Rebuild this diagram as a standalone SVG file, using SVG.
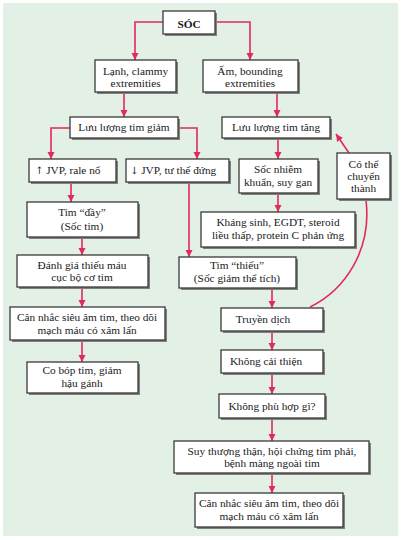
<svg xmlns="http://www.w3.org/2000/svg" width="401" height="540" viewBox="0 0 401 540">
<style>
.bg{fill:#e2f0e6}
.sh{fill:#808080}
.bx{fill:#fff;stroke:#3a3a3a;stroke-width:1.3}
.t{font-family:"Liberation Serif","Times New Roman",serif;font-size:11.3px;fill:#1a1a1a;text-anchor:middle}
.l{text-anchor:start}
.ar{font-family:"DejaVu Serif","Liberation Serif",serif;font-size:10px}
.c{fill:none;stroke:#e4295f;stroke-width:1.6}
</style>
<defs>
<marker id="ar" viewBox="0 0 10 10" refX="10" refY="5" markerWidth="4.5" markerHeight="4.5" markerUnits="strokeWidth" orient="auto">
<path d="M0,0 L10,5 L0,10 z" fill="#e4295f"/>
</marker>
</defs>
<rect x="0" y="0" width="401" height="540" fill="#fff"/>
<rect class="bg" x="3" y="3" width="395" height="533"/>

<g id="connectors">
<path class="c" d="M163,22 H135 V60" marker-end="url(#ar)"/>
<path class="c" d="M215,22 H250 V60" marker-end="url(#ar)"/>
<path class="c" d="M124,92 V117" marker-end="url(#ar)"/>
<path class="c" d="M277,92 V117" marker-end="url(#ar)"/>
<path class="c" d="M70,128 H51 V159" marker-end="url(#ar)"/>
<path class="c" d="M178,128 H197 V159" marker-end="url(#ar)"/>
<path class="c" d="M71,182 V202" marker-end="url(#ar)"/>
<path class="c" d="M189,182 V257" marker-end="url(#ar)"/>
<path class="c" d="M82,237 V255" marker-end="url(#ar)"/>
<path class="c" d="M82,287 V307" marker-end="url(#ar)"/>
<path class="c" d="M82,340 V362" marker-end="url(#ar)"/>
<path class="c" d="M278,138 V159" marker-end="url(#ar)"/>
<path class="c" d="M278,193 V212" marker-end="url(#ar)"/>
<path class="c" d="M272,288 V308" marker-end="url(#ar)"/>
<path class="c" d="M272,331 V350" marker-end="url(#ar)"/>
<path class="c" d="M272,373 V394" marker-end="url(#ar)"/>
<path class="c" d="M272,418 V441" marker-end="url(#ar)"/>
<path class="c" d="M272,473 V493" marker-end="url(#ar)"/>
<path class="c" d="M310,307 C345,290 372,250 366,200"/>
<path class="c" d="M349,153 L336,134" marker-end="url(#ar)"/>
</g>

<g id="n-soc"><rect class="sh" x="165" y="13" width="52" height="23"/><rect class="bx" x="163" y="11" width="52" height="23"/><text class="t" x="189" y="28" font-weight="bold">SÓC</text></g>
<g id="n-lanh"><rect class="sh" x="97" y="62" width="81" height="32"/><rect class="bx" x="95" y="60" width="81" height="32"/><text class="t" x="135.5" y="75">Lạnh, clammy</text><text class="t" x="135.5" y="87">extremities</text></g>
<g id="n-am"><rect class="sh" x="205" y="62" width="95" height="32"/><rect class="bx" x="203" y="60" width="95" height="32"/><text class="t" x="250" y="75">Ấm, bounding</text><text class="t" x="250" y="87">extremities</text></g>
<g id="n-giam"><rect class="sh" x="72" y="119" width="108" height="21"/><rect class="bx" x="70" y="117" width="108" height="21"/><text class="t" x="124" y="131">Lưu lượng tim giảm</text></g>
<g id="n-tang"><rect class="sh" x="224" y="119" width="108" height="21"/><rect class="bx" x="222" y="117" width="108" height="21"/><text class="t" x="276" y="131">Lưu lượng tim tăng</text></g>
<g id="n-jvpup"><rect class="sh" x="31" y="161" width="87" height="23"/><rect class="bx" x="29" y="159" width="87" height="23"/><text class="t l" x="35" y="174"><tspan class="ar">↑</tspan> JVP, rale nổ</text></g>
<g id="n-jvpdown"><rect class="sh" x="128" y="161" width="103" height="23"/><rect class="bx" x="126" y="159" width="103" height="23"/><text class="t l" x="130" y="174"><tspan class="ar">↓</tspan> JVP, tư thế đứng</text></g>
<g id="n-day"><rect class="sh" x="29" y="204" width="111" height="35"/><rect class="bx" x="27" y="202" width="111" height="35"/><text class="t" x="82" y="216">Tim “đầy”</text><text class="t" x="82" y="230">(Sốc tim)</text></g>
<g id="n-danhgia"><rect class="sh" x="19" y="257" width="131" height="32"/><rect class="bx" x="17" y="255" width="131" height="32"/><text class="t" x="82" y="269">Đánh giá thiếu máu</text><text class="t" x="82" y="281">cục bộ cơ tim</text></g>
<g id="n-cannhac1"><rect class="sh" x="12" y="309" width="155" height="33"/><rect class="bx" x="10" y="307" width="155" height="33"/><text class="t" x="87" y="321">Cân nhắc siêu âm tim, theo dõi</text><text class="t" x="87" y="334">mạch máu có xâm lấn</text></g>
<g id="n-cobop"><rect class="sh" x="29" y="364" width="111" height="31"/><rect class="bx" x="27" y="362" width="111" height="31"/><text class="t" x="82" y="374">Co bóp tim, giảm</text><text class="t" x="82" y="387">hậu gánh</text></g>
<g id="n-socnk"><rect class="sh" x="241" y="161" width="79" height="34"/><rect class="bx" x="239" y="159" width="79" height="34"/><text class="t" x="278" y="173">Sốc nhiễm</text><text class="t" x="278" y="186">khuẩn, suy gan</text></g>
<g id="n-khangsinh"><rect class="sh" x="203" y="214" width="154" height="35"/><rect class="bx" x="201" y="212" width="154" height="35"/><text class="t" x="278" y="226">Kháng sinh, EGDT, steroid</text><text class="t" x="278" y="239">liều thấp, protein C phản ứng</text></g>
<g id="n-cothe"><rect class="sh" x="339" y="155" width="53" height="46"/><rect class="bx" x="337" y="153" width="53" height="46"/><text class="t" x="363.5" y="168">Có thể</text><text class="t" x="363.5" y="180">chuyển</text><text class="t" x="363.5" y="192">thành</text></g>
<g id="n-thieu"><rect class="sh" x="181" y="259" width="117" height="31"/><rect class="bx" x="179" y="257" width="117" height="31"/><text class="t" x="237" y="269">Tim “thiếu”</text><text class="t" x="237" y="282">(Sốc giảm thể tích)</text></g>
<g id="n-truyen"><rect class="sh" x="223" y="310" width="102" height="23"/><rect class="bx" x="221" y="308" width="102" height="23"/><text class="t" x="263" y="323">Truyền dịch</text></g>
<g id="n-khongcai"><rect class="sh" x="223" y="352" width="102" height="23"/><rect class="bx" x="221" y="350" width="102" height="23"/><text class="t" x="266" y="365">Không cải thiện</text></g>
<g id="n-khongphu"><rect class="sh" x="221" y="396" width="106" height="24"/><rect class="bx" x="219" y="394" width="106" height="24"/><text class="t" x="272" y="410">Không phù hợp gì?</text></g>
<g id="n-suy"><rect class="sh" x="176" y="443" width="195" height="32"/><rect class="bx" x="174" y="441" width="195" height="32"/><text class="t" x="272" y="455">Suy thượng thận, hội chứng tim phải,</text><text class="t" x="272" y="467">bệnh màng ngoài tim</text></g>
<g id="n-cannhac2"><rect class="sh" x="197" y="495" width="148" height="34"/><rect class="bx" x="195" y="493" width="148" height="34"/><text class="t" x="269" y="507">Cân nhắc siêu âm tim, theo dõi</text><text class="t" x="269" y="520">mạch máu có xâm lấn</text></g>
</svg>
